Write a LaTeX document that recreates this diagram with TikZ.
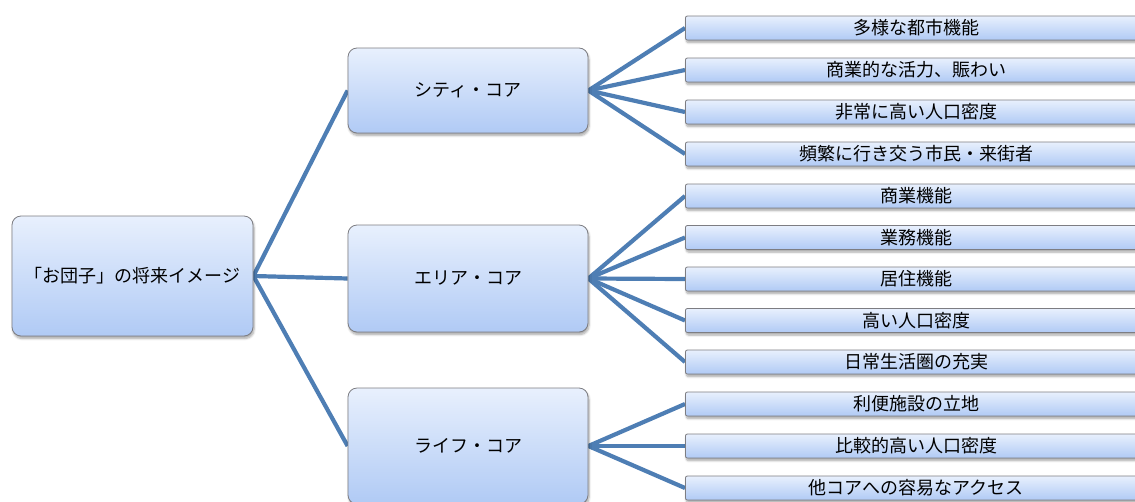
\documentclass[tikz,border=0pt]{standalone}
\usepackage{fontspec}
\setmainfont{Noto Sans CJK JP}
\usetikzlibrary{shadows.blur,backgrounds}
\definecolor{linkblue}{RGB}{78,126,180}
\definecolor{boxtop}{RGB}{232,240,253}
\definecolor{boxbot}{RGB}{176,202,245}
\definecolor{boxline}{RGB}{125,125,130}
\tikzset{
  box/.style={draw=boxline, line width=0.8pt, top color=boxtop, bottom color=boxbot,
    blur shadow={shadow xshift=1pt, shadow yshift=-2.5pt, shadow blur steps=6, shadow opacity=35},
    font=\fontsize{18}{21}\selectfont, inner sep=0pt, anchor=center},
  rootbox/.style={box, rounded corners=9pt, minimum width=241pt, minimum height=120pt},
  midbox/.style={box, rounded corners=9pt, minimum width=240pt},
  leafbox/.style={box, rounded corners=2pt, minimum width=462pt, minimum height=24pt, anchor=west},
  link/.style={draw=linkblue, line width=4.2pt}
}
\begin{document}
\begin{tikzpicture}[x=1pt,y=1pt]
\useasboundingbox (0,0) rectangle (1135,-501);
\clip (0,0) rectangle (1135,-501);
\node[rootbox] (root) at (132.5,-276) {「お団子」の将来イメージ};
\node[midbox, minimum height=85pt] (city) at (468,-90.5) {シティ・コア};
\node[midbox, minimum height=107pt] (area) at (468,-278.5) {エリア・コア};
\node[midbox, minimum height=116pt] (life) at (468,-446) {ライフ・コア};
\node[leafbox] (c1) at (685,-28) {多様な都市機能};
\node[leafbox] (c2) at (685,-70) {商業的な活力、賑わい};
\node[leafbox] (c3) at (685,-112) {非常に高い人口密度};
\node[leafbox] (c4) at (685,-154) {頻繁に行き交う市民・来街者};
\node[leafbox] (a1) at (685,-196) {商業機能};
\node[leafbox] (a2) at (685,-237.5) {業務機能};
\node[leafbox] (a3) at (685,-279) {居住機能};
\node[leafbox] (a4) at (685,-320.5) {高い人口密度};
\node[leafbox] (a5) at (685,-362) {日常生活圏の充実};
\node[leafbox] (l1) at (685,-404) {利便施設の立地};
\node[leafbox] (l2) at (685,-446) {比較的高い人口密度};
\node[leafbox] (l3) at (685,-488) {他コアへの容易なアクセス};
\begin{scope}[on background layer]
\foreach \m in {city,area,life} \draw[link] (root.east) -- (\m.west);
\foreach \l in {c1,c2,c3,c4} \draw[link] (city.east) -- (\l.west);
\foreach \l in {a1,a2,a3,a4,a5} \draw[link] (area.east) -- (\l.west);
\foreach \l in {l1,l2,l3} \draw[link] (life.east) -- (\l.west);
\end{scope}
\end{tikzpicture}
\end{document}
